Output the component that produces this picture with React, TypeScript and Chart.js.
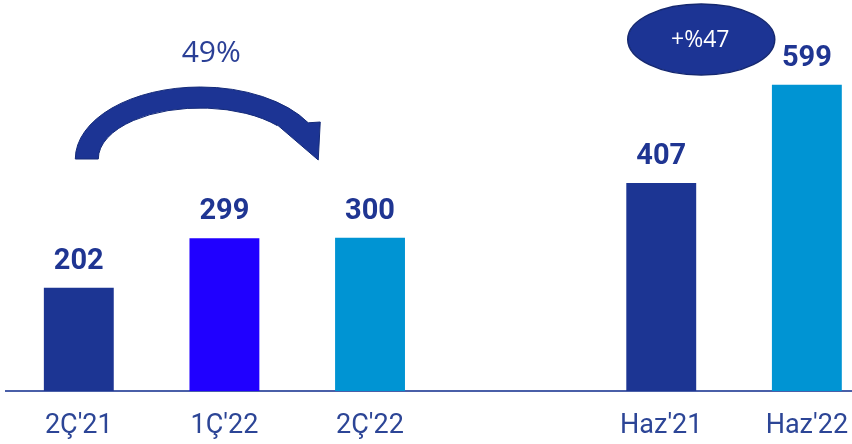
import React, { useEffect, useRef } from "react";
import { Chart, registerables } from "chart.js";

Chart.register(...registerables);

const categories = ["2Ç'21", "1Ç'22", "2Ç'22", "", "Haz'21", "Haz'22"];
const positions = [0, 1, 2, 4, 5];
const values = [202, 299, 300, 407, 599];
const barColors = ["#1c3593", "#2000ff", "#0094d3", "#1c3593", "#0094d3"];
const growthLeft = "49%";
const growthRight = "+%47";

const annotationPlugin = {
  id: "annotations",
  afterDatasetsDraw(chart: any) {
    const ctx = chart.ctx;
    const meta = chart.getDatasetMeta(0);
    const xs = chart.scales.x;
    ctx.save();
    // value labels
    ctx.font = "bold 29px Roboto";
    ctx.fillStyle = "#1f3592";
    ctx.textAlign = "center";
    ctx.textBaseline = "alphabetic";
    meta.data.forEach((bar: any, i: number) => {
      ctx.fillText(String(values[i]), bar.x, bar.y - 19);
    });

    // curved arrow between first and third bars
    const x0 = xs.getPixelForValue(0);
    const x2 = xs.getPixelForValue(2);
    const cx = x0 + (x2 - x0) * 0.417;
    const cy = 159;
    const oRx = cx - x0 + 3.5;
    const oRy = 72;
    const iRx = oRx - 23;
    const iRy = 51;
    const oEnd = 2 * Math.PI - Math.acos(Math.min(1, 108 / oRx));
    const iEnd = 2 * Math.PI - Math.acos(Math.min(1, 77 / iRx));
    ctx.beginPath();
    ctx.ellipse(cx, cy, oRx, oRy, 0, Math.PI, oEnd, false);
    ctx.lineTo(cx + 120, cy - 37);
    ctx.lineTo(cx + 118, cy + 1);
    ctx.lineTo(cx + 76, cy - 35);
    ctx.ellipse(cx, cy, iRx, iRy, 0, iEnd, Math.PI, true);
    ctx.closePath();
    ctx.fillStyle = "#1c3494";
    ctx.fill();
    ctx.lineWidth = 1;
    ctx.strokeStyle = "#142a78";
    ctx.stroke();

    ctx.font = "30px 'Open Sans'";
    ctx.fillStyle = "#2a3f96";
    ctx.textAlign = "center";
    ctx.textBaseline = "middle";
    ctx.fillText(growthLeft, cx + 11, 53);

    // ellipse badge near right bars
    const x4 = xs.getPixelForValue(4);
    const ex = x4 + 40;
    const ey = 39.5;
    ctx.beginPath();
    ctx.ellipse(ex, ey, 73.5, 35.5, 0, 0, Math.PI * 2);
    ctx.fillStyle = "#1c3494";
    ctx.fill();
    ctx.lineWidth = 1.5;
    ctx.strokeStyle = "#152870";
    ctx.stroke();
    ctx.font = "23px 'Open Sans'";
    ctx.fillStyle = "#ffffff";
    ctx.fillText(growthRight, ex - 1, ey + 1);
    ctx.restore();
  },
};

export default function App() {
  const ref = useRef<HTMLCanvasElement>(null);
  useEffect(() => {
    document.body.style.margin = "0";
    const chart = new Chart(ref.current as HTMLCanvasElement, {
      type: "bar",
      data: {
        datasets: [
          {
            data: positions.map((p, i) => ({ x: p, y: values[i] })),
            backgroundColor: barColors,
            barPercentage: 0.6,
            categoryPercentage: 0.8,
          },
        ],
      },
      options: {
        animation: false,
        responsive: false,
        layout: { padding: { left: 6, right: 0, top: 0, bottom: 2 } },
        plugins: { legend: { display: false }, tooltip: { enabled: false } },
        scales: {
          x: {
            type: "linear",
            offset: false,
            min: -0.5,
            max: 5.31,
            grid: { display: false, drawTicks: false },
            border: { display: true, color: "#4a5fa8", width: 2 },
            afterBuildTicks: (axis: any) => {
              axis.ticks = categories.map((_, i) => ({ value: i }));
            },
            afterFit: (axis: any) => {
              axis.height = 51;
              axis.paddingLeft = 0;
              axis.paddingRight = 0;
            },
            ticks: {
              autoSkip: false,
              maxRotation: 0,
              padding: 19,
              color: "#2c4596",
              font: { family: "Roboto", size: 27, weight: "normal" },
              callback: (v: any) => categories[v as number] ?? "",
            },
          },
          y: {
            display: false,
            min: 0,
            max: 765,
          },
        },
      },
      plugins: [annotationPlugin],
    } as any);
    return () => chart.destroy();
  }, []);
  return (
    <div style={{ width: 852, height: 444 }}>
      <canvas ref={ref} width={852} height={444} />
    </div>
  );
}
